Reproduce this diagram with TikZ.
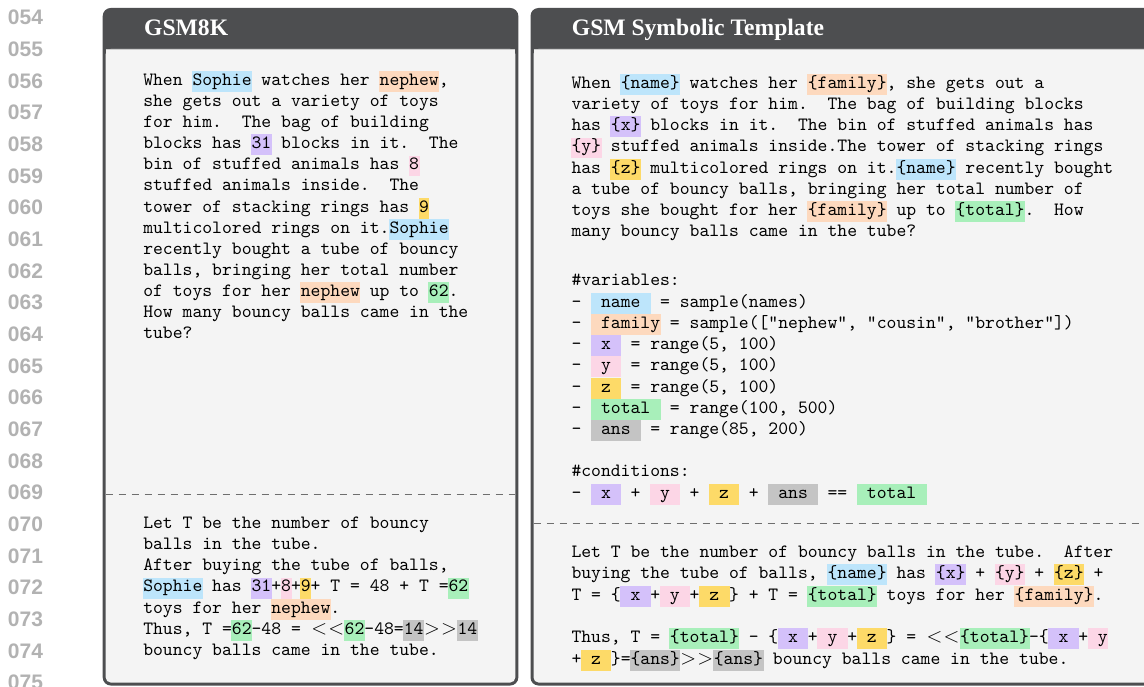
\documentclass[tikz,border=0pt]{standalone}
\usepackage{fontspec}
\newfontfamily\titlefont{Liberation Serif}
\newfontfamily\numfont{Liberation Sans}
\newfontfamily\monoten{lmmono10-regular}[Extension=.otf]
\definecolor{framedark}{RGB}{77,78,80}
\definecolor{bodybg}{RGB}{244,244,244}
\definecolor{sepgray}{RGB}{205,205,205}
\definecolor{numgray}{RGB}{178,178,178}
\definecolor{dashgray}{RGB}{110,110,110}
\definecolor{hlblue}{RGB}{189,229,251}
\definecolor{hlpeach}{RGB}{253,217,190}
\definecolor{hlpurp}{RGB}{212,193,250}
\definecolor{hlpink}{RGB}{252,214,230}
\definecolor{hlyel}{RGB}{253,218,104}
\definecolor{hlgrn}{RGB}{168,239,186}
\definecolor{hlgry}{RGB}{196,196,196}
\newsavebox\hlsavebox
\newcommand{\HLc}[2]{\sbox\hlsavebox{#2}\rlap{\kern-0.5pt\textcolor{#1}{\rule[-6.6pt]{\dimexpr\wd\hlsavebox+1pt\relax}{20.9pt}}}\usebox\hlsavebox}
\newcommand{\hBlue}[1]{\HLc{hlblue}{#1}}
\newcommand{\hPeach}[1]{\HLc{hlpeach}{#1}}
\newcommand{\hPurp}[1]{\HLc{hlpurp}{#1}}
\newcommand{\hPink}[1]{\HLc{hlpink}{#1}}
\newcommand{\hYel}[1]{\HLc{hlyel}{#1}}
\newcommand{\hGrn}[1]{\HLc{hlgrn}{#1}}
\newcommand{\hGry}[1]{\HLc{hlgry}{#1}}
\newcommand{\mlt}{\makebox[17pt][c]{\fontsize{22}{22}\selectfont$<$}}
\newcommand{\mgt}{\makebox[17pt][c]{\fontsize{22}{22}\selectfont$>$}}
\newcommand{\monosetup}{\monoten\fontsize{18.76}{21.2}\selectfont\frenchspacing\spaceskip=9.85pt\relax\xspaceskip=9.85pt\relax}
\tikzset{
  txt/.style={anchor=base west, inner sep=0pt, outer sep=0pt, font=\monosetup},
  lnum/.style={anchor=base west, inner sep=0pt, text=numgray,
    font=\numfont\bfseries\fontsize{21}{21}\selectfont},
  ttl/.style={anchor=base west, inner sep=0pt, text=white,
    font=\titlefont\bfseries\fontsize{23.6}{24}\selectfont},
  frame/.style={fill=framedark, rounded corners=8pt},
  body/.style={fill=bodybg},
  sepline/.style={draw=sepgray, line width=1.4pt},
  divider/.style={draw=dashgray, line width=0.9pt, dash pattern=on 7pt off 6pt}
}
\begin{document}
\begin{tikzpicture}[x=1pt,y=-1pt]
\useasboundingbox (0,0) rectangle (1144,687);
\clip (0,0) rectangle (1144,687);
\fill[white] (0,0) rectangle (1144,687);
% line numbers
\foreach \i in {0,...,21}{
  \pgfmathtruncatemacro{\num}{54+\i}
  \pgfmathsetmacro{\yy}{24.9+31.67*\i}
  \node[lnum] (ln\i) at (7.8,\yy) {0\num};
}
% left panel frame
\fill[frame] (102.7,8) rectangle (518.3,685.5);
\fill[body, rounded corners=5pt] (105.7,49) rectangle (515.3,682.5);
\fill[body] (105.7,49) rectangle (515.3,80);
\draw[sepline] (105.7,49.7) -- (515.3,49.7);
\draw[divider] (105.7,494.3) -- (515.3,494.3);
% right panel frame
\fill[frame] (530.5,8) rectangle (1170,685.5);
\fill[body, rounded corners=5pt] (533.5,49) rectangle (1167,682.5);
\fill[body] (533.5,49) rectangle (1167,80);
\draw[sepline] (533.5,49.7) -- (1167,49.7);
\draw[divider] (533.5,523.3) -- (1167,523.3);
% titles
\node[ttl] (t1) at (144,35.5) {GSM8K};
\node[ttl] (t2) at (571.7,35.5) {GSM Symbolic Template};
% left question
\node[txt] (L1) at (143.3,85.5) {When \hBlue{Sophie} watches her \hPeach{nephew},};
\node[txt] (L2) at (143.3,106.6) {she gets out a variety of toys};
\node[txt] (L3) at (143.3,127.7) {for him.\ \ The bag of building};
\node[txt] (L4) at (143.3,148.8) {blocks has \hPurp{31} blocks in it.\ \ The};
\node[txt] (L5) at (143.3,169.9) {bin of stuffed animals has \hPink{8}};
\node[txt] (L6) at (143.3,191.0) {stuffed animals inside.\ \ The};
\node[txt] (L7) at (143.3,212.1) {tower of stacking rings has \hYel{9}};
\node[txt] (L8) at (143.3,233.2) {multicolored rings on it.\hBlue{Sophie}};
\node[txt] (L9) at (143.3,254.3) {recently bought a tube of bouncy};
\node[txt] (L10) at (143.3,275.4) {balls, bringing her total number};
\node[txt] (L11) at (143.3,296.5) {of toys for her \hPeach{nephew} up to \hGrn{62}.};
\node[txt] (L12) at (143.3,317.6) {How many bouncy balls came in the};
\node[txt] (L13) at (143.3,338.7) {tube?};
% left answer
\node[txt] (LB1) at (143.3,528.3) {Let T be the number of bouncy};
\node[txt] (LB2) at (143.3,549.5) {balls in the tube.};
\node[txt] (LB3) at (143.3,570.7) {After buying the tube of balls,};
\node[txt] (LB4) at (143.3,591.9) {\hBlue{Sophie} has \hPurp{31}+\hPink{8}+\hYel{9}+ T = 48 + T =\hGrn{62}};
\node[txt] (LB5) at (143.3,613.1) {toys for her \hPeach{nephew}.};
\node[txt] (LB6) at (143.3,634.3) {Thus, T =\hGrn{62}-48 = \mlt\mlt\hGrn{62}-48=\hGry{14}\mgt\mgt\hGry{14}};
\node[txt] (LB7) at (143.3,655.5) {bouncy balls came in the tube.};
% right template
\node[txt] (R1) at (571.5,88.3) {When \hBlue{\{name\}} watches her \hPeach{\{family\}}, she gets out a};
\node[txt] (R2) at (571.5,109.5) {variety of toys for him.\ \ The bag of building blocks};
\node[txt] (R3) at (571.5,130.7) {has \hPurp{\{x\}} blocks in it.\ \ The bin of stuffed animals has};
\node[txt] (R4) at (571.5,151.9) {\hPink{\{y\}} stuffed animals inside.The tower of stacking rings};
\node[txt] (R5) at (571.5,173.1) {has \hYel{\{z\}} multicolored rings on it.\hBlue{\{name\}} recently bought};
\node[txt] (R6) at (571.5,194.3) {a tube of bouncy balls, bringing her total number of};
\node[txt] (R7) at (571.5,215.5) {toys she bought for her \hPeach{\{family\}} up to \hGrn{\{total\}}.\ \ How};
\node[txt] (R8) at (571.5,236.7) {many bouncy balls came in the tube?};
% variables
\node[txt] (V0) at (571.5,286.0) {\#variables:};
\node[txt] (V1) at (571.5,307.2) {- \hBlue{~name~} = sample(names)};
\node[txt] (V2) at (571.5,328.4) {- \hPeach{~family} = sample(["nephew", "cousin", "brother"])};
\node[txt] (V3) at (571.5,349.6) {- \hPurp{~x~} = range(5, 100)};
\node[txt] (V4) at (571.5,370.8) {- \hPink{~y~} = range(5, 100)};
\node[txt] (V5) at (571.5,392.0) {- \hYel{~z~} = range(5, 100)};
\node[txt] (V6) at (571.5,413.2) {- \hGrn{~total~} = range(100, 500)};
\node[txt] (V7) at (571.5,434.4) {- \hGry{~ans~} = range(85, 200)};
\node[txt] (V8) at (571.5,476.8) {\#conditions:};
\node[txt] (V9) at (571.5,498.0) {- \hPurp{~x~} + \hPink{~y~} + \hYel{~z~} + \hGry{~ans~} == \hGrn{~total~}};
% right answer
\node[txt] (RB1) at (571.5,557.3) {Let T be the number of bouncy balls in the tube.\ \ After};
\node[txt] (RB2) at (571.5,578.7) {buying the tube of balls, \hBlue{\{name\}} has \hPurp{\{x\}} + \hPink{\{y\}} + \hYel{\{z\}} +};
\node[txt] (RB3) at (571.5,600.0) {T = \{\hPurp{~x~}+\hPink{~y~}+\hYel{~z~}\} + T = \hGrn{\{total\}} toys for her \hPeach{\{family\}}.};
\node[txt] (RB4) at (571.5,642.7) {Thus, T = \hGrn{\{total\}} - \{\hPurp{~x~}+\hPink{~y~}+\hYel{~z~}\} = \mlt\mlt\hGrn{\{total\}}-\{\hPurp{~x~}+\hPink{~y}};
\node[txt] (RB5) at (571.5,664.0) {+\hYel{~z~}\}=\hGry{\{ans\}}\mgt\mgt\hGry{\{ans\}} bouncy balls came in the tube.};
\end{tikzpicture}
\end{document}
